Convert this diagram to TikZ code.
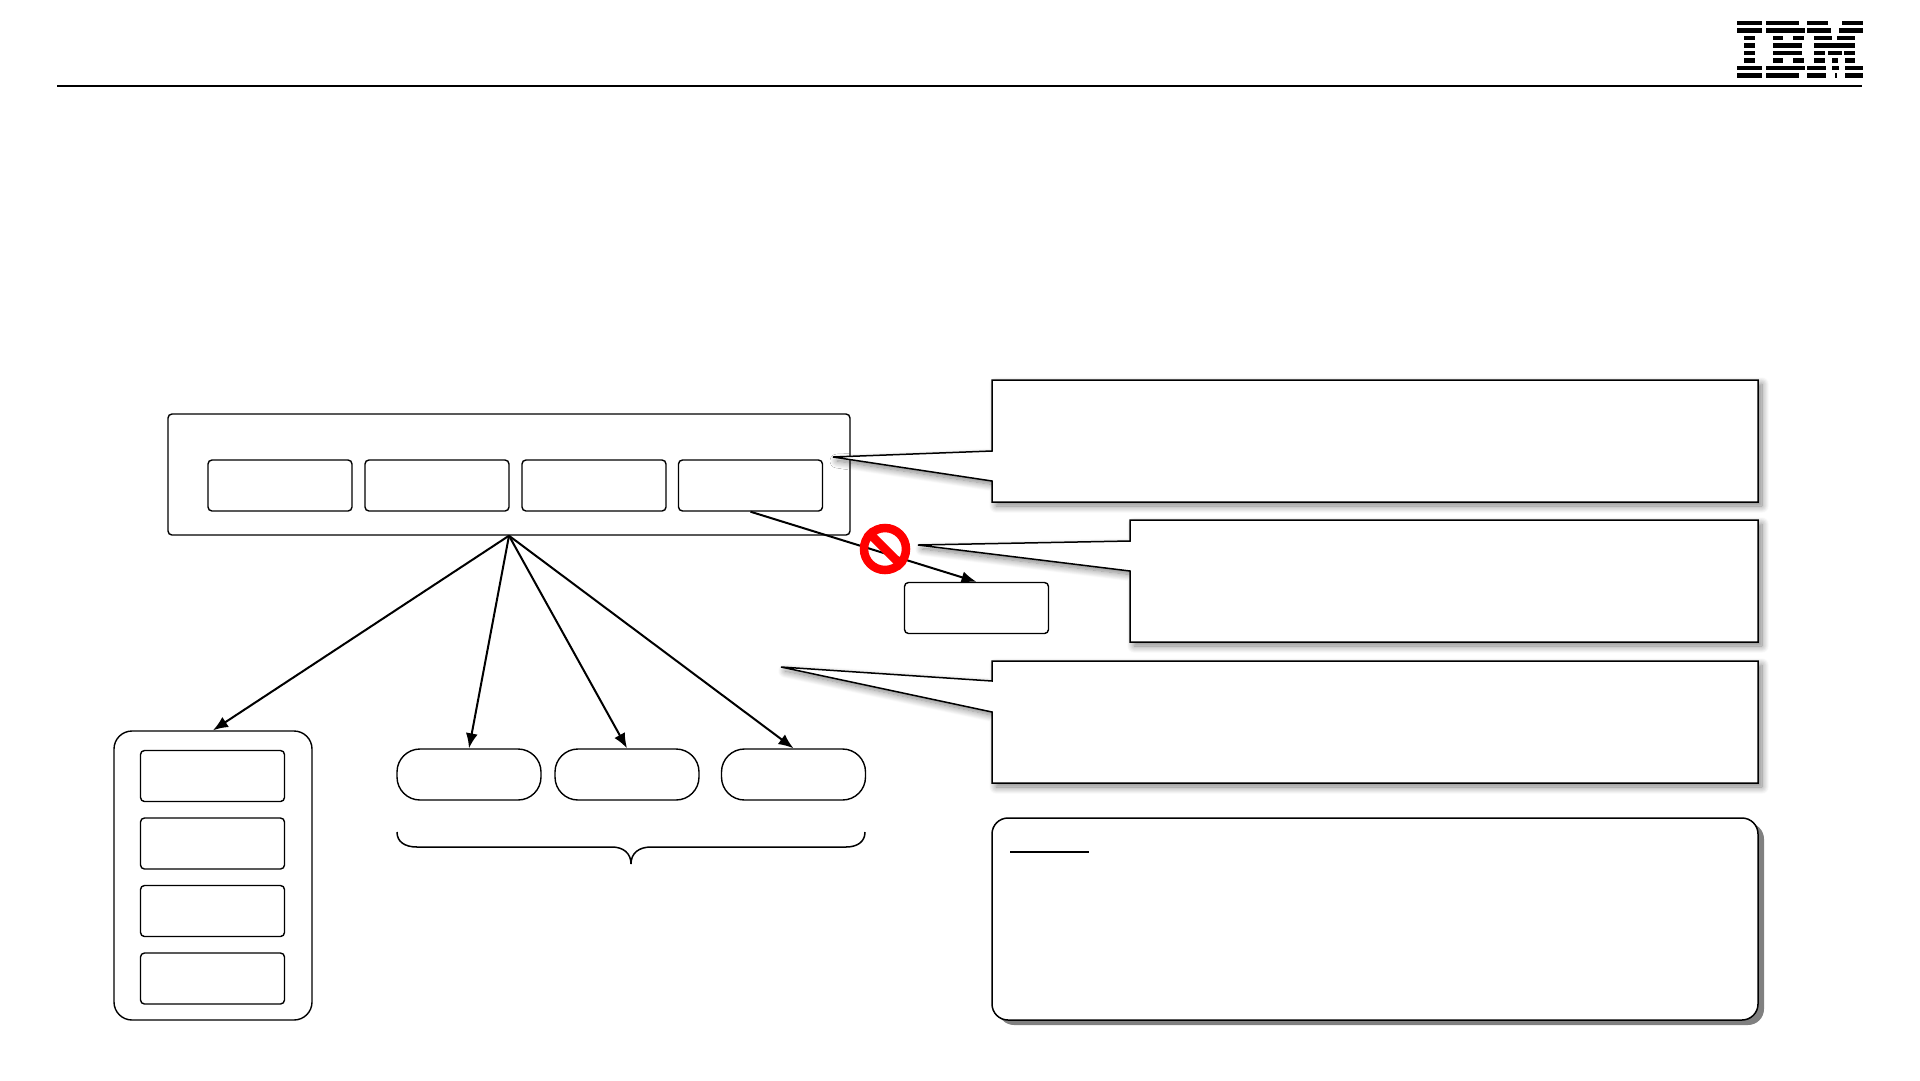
\documentclass[tikz,border=0pt]{standalone}
\usepackage{tikz}
\usetikzlibrary{arrows.meta, positioning, calc, shadows, shadows.blur}
\tikzset{
  lane/.style={draw, line width=1.4pt, rounded corners=4pt, fill=white, inner sep=0pt},
  slotbox/.style={lane, minimum width=144pt, minimum height=51pt},
  pillbox/.style={lane, minimum width=144pt, minimum height=51pt, rounded corners=23pt},
  linkarrow/.style={-{Latex[length=15pt,width=12pt]}, line width=2pt},
  calloutbox/.style={draw, line width=1.5pt, fill=white, blur shadow={shadow xshift=4pt, shadow yshift=-4pt, shadow blur radius=7pt, shadow blur steps=10, shadow opacity=50}},
  logobar/.style={fill=black, draw=none}
}
\begin{document}
\begin{tikzpicture}[x=1pt, y=-1pt]
\useasboundingbox (0,0) rectangle (1920,1080);
% header
\coordinate (ruleL) at (57,86);
\coordinate (ruleR) at (1862,86);
\draw[line width=1.2pt] (ruleL) -- (ruleR);
% logo, row by row
\foreach \r/\xa/\xb in {0/1737/1762,1/1737/1762,2/1744/1755,3/1744/1755,4/1744/1755,5/1744/1755,6/1737/1762,7/1737/1762,
  0/1766/1799,1/1766/1805,2/1773/1783,2/1793/1804,3/1773/1802,4/1773/1802,5/1773/1783,5/1793/1804,6/1766/1805,7/1766/1799,
  0/1807/1828,0/1842/1863,1/1807/1831,1/1839/1863,2/1814/1832,2/1837/1855,3/1814/1855,
  4/1814/1825,4/1828/1842,4/1844/1855,5/1814/1825,5/1832/1838,5/1845/1855,
  6/1807/1826,6/1832/1839,6/1845/1863,7/1807/1826,7/1835/1837,7/1845/1863} {
  \fill[logobar] (\xa,20.5+7.5*\r) rectangle (\xb,25+7.5*\r);
}
% top bar
\node[lane, minimum width=682pt, minimum height=121pt] (mainbar) at (509,474.5) {};
\foreach \nm/\x in {slotA/280,slotB/437,slotC/594,slotD/750.5} { \node[slotbox] (\nm) at (\x,485.5) {}; }
\node[slotbox] (extbox) at (976.5,608) {};
% left panel
\node[lane, minimum width=198pt, minimum height=289pt, rounded corners=18pt] (sidepanel) at (213,875.5) {};
\foreach \nm/\y in {sideA/776,sideB/843.5,sideC/911,sideD/978.5} { \node[slotbox] (\nm) at (212.5,\y) {}; }
% pills
\foreach \nm/\x in {pillA/469,pillB/627,pillC/793.5} { \node[pillbox] (\nm) at (\x,774.5) {}; }
% arrows
\foreach \tgt in {sidepanel,pillA,pillB,pillC} { \draw[linkarrow] (mainbar.south) -- (\tgt.north); }
\draw[linkarrow] (slotD.south) -- (extbox.north);
% brace
\draw[line width=1.5pt] (397,832) .. controls (397,842) and (405,847) .. (417,847) -- (612,847)
  .. controls (623,847) and (631,853) .. (631,864) .. controls (631,853) and (639,847) .. (651,847)
  -- (846,847) .. controls (857,847) and (865,842) .. (865,832);
% no-entry sign
\node[circle, draw=red, line width=8.5pt, minimum size=42pt, inner sep=0pt] (nosign) at (885,549) {};
\draw[red, line width=8.5pt] (nosign.135) -- (nosign.-45);
% callouts
\foreach \xa/\ya/\yb/\na/\nb/\tx/\ty in {992/380/502/451/481/833/457, 1130/520/642/541/571/918/545, 992/661/783/681/712/781/667} {
  \path[calloutbox] (\xa,\ya) -- (1758,\ya) -- (1758,\yb) -- (\xa,\yb) -- (\xa,\nb) -- (\tx,\ty) -- (\xa,\na) -- cycle;
}
% note
\node[draw, line width=1.5pt, fill=white, rounded corners=16pt, minimum width=766pt, minimum height=202pt,
  copy shadow={shadow xshift=6pt, shadow yshift=-5pt, draw=none, fill=black!50}] (notebox) at (1375,919) {};
\coordinate (noteL) at (1010,852);
\coordinate (noteR) at (1089,852);
\draw[line width=1.3pt] (noteL) -- (noteR);
\end{tikzpicture}
\end{document}
